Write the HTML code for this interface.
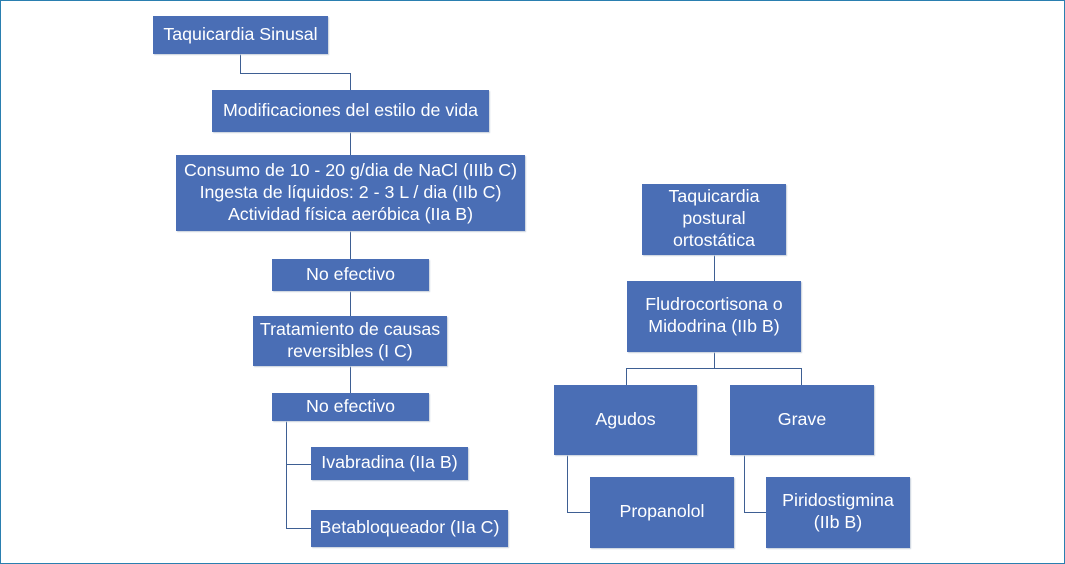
<!DOCTYPE html>
<html><head><meta charset="utf-8"><style>
body{margin:0;width:1065px;height:564px;background:#fff;position:relative;overflow:hidden;font-family:"Liberation Sans",Arial,sans-serif}
.frame{position:absolute;left:0;top:0;width:1063px;height:562px;border:1px solid #2a7fb0}
.b{position:absolute;box-sizing:border-box;padding-bottom:3px;background:#4a6eb5;color:#fff;font-size:17.8px;line-height:22px;display:flex;align-items:center;justify-content:center;text-align:center;box-shadow:1px 1px 1px #c8d0dc;white-space:nowrap}
.l{position:absolute;background:#3e5f93}
</style></head><body>
<div class="frame"></div>
<div class="l" style="left:240px;top:54px;width:1px;height:19px"></div>
<div class="l" style="left:240px;top:73px;width:110px;height:1px"></div>
<div class="l" style="left:350px;top:73px;width:1px;height:17px"></div>
<div class="l" style="left:350px;top:132px;width:1px;height:23px"></div>
<div class="l" style="left:350px;top:231px;width:1px;height:28px"></div>
<div class="l" style="left:350px;top:291px;width:1px;height:25px"></div>
<div class="l" style="left:350px;top:366px;width:1px;height:27px"></div>
<div class="l" style="left:286px;top:421px;width:1px;height:108px"></div>
<div class="l" style="left:286px;top:464px;width:25px;height:1px"></div>
<div class="l" style="left:286px;top:528px;width:25px;height:1px"></div>
<div class="l" style="left:714px;top:255px;width:1px;height:26px"></div>
<div class="l" style="left:714px;top:352px;width:1px;height:16px"></div>
<div class="l" style="left:626px;top:368px;width:176px;height:1px"></div>
<div class="l" style="left:626px;top:368px;width:1px;height:17px"></div>
<div class="l" style="left:801px;top:368px;width:1px;height:17px"></div>
<div class="l" style="left:567px;top:455px;width:1px;height:57px"></div>
<div class="l" style="left:567px;top:512px;width:23px;height:1px"></div>
<div class="l" style="left:744px;top:455px;width:1px;height:57px"></div>
<div class="l" style="left:744px;top:512px;width:22px;height:1px"></div>
<div class="b" style="left:153px;top:16px;width:175px;height:38px">Taquicardia Sinusal</div>
<div class="b" style="left:212px;top:90px;width:277px;height:42px">Modificaciones del estilo de vida</div>
<div class="b" style="left:176px;top:155px;width:349px;height:76px">Consumo de 10 - 20 g/dia de NaCl (IIIb C)<br>Ingesta de líquidos: 2 - 3 L / dia (IIb C)<br>Actividad física aeróbica (IIa B)</div>
<div class="b" style="left:272px;top:259px;width:157px;height:32px">No efectivo</div>
<div class="b" style="left:253px;top:316px;width:194px;height:50px">Tratamiento de causas<br>reversibles (I C)</div>
<div class="b" style="left:272px;top:393px;width:157px;height:28px">No efectivo</div>
<div class="b" style="left:311px;top:447px;width:157px;height:33px">Ivabradina (IIa B)</div>
<div class="b" style="left:311px;top:510px;width:197px;height:37px">Betabloqueador (IIa C)</div>
<div class="b" style="left:642px;top:184px;width:144px;height:71px">Taquicardia<br>postural<br>ortostática</div>
<div class="b" style="left:627px;top:281px;width:174px;height:71px">Fludrocortisona o<br>Midodrina (IIb B)</div>
<div class="b" style="left:554px;top:385px;width:143px;height:70px">Agudos</div>
<div class="b" style="left:730px;top:385px;width:144px;height:70px">Grave</div>
<div class="b" style="left:590px;top:477px;width:144px;height:71px">Propanolol</div>
<div class="b" style="left:766px;top:477px;width:144px;height:71px">Piridostigmina<br>(IIb B)</div>
</body></html>
